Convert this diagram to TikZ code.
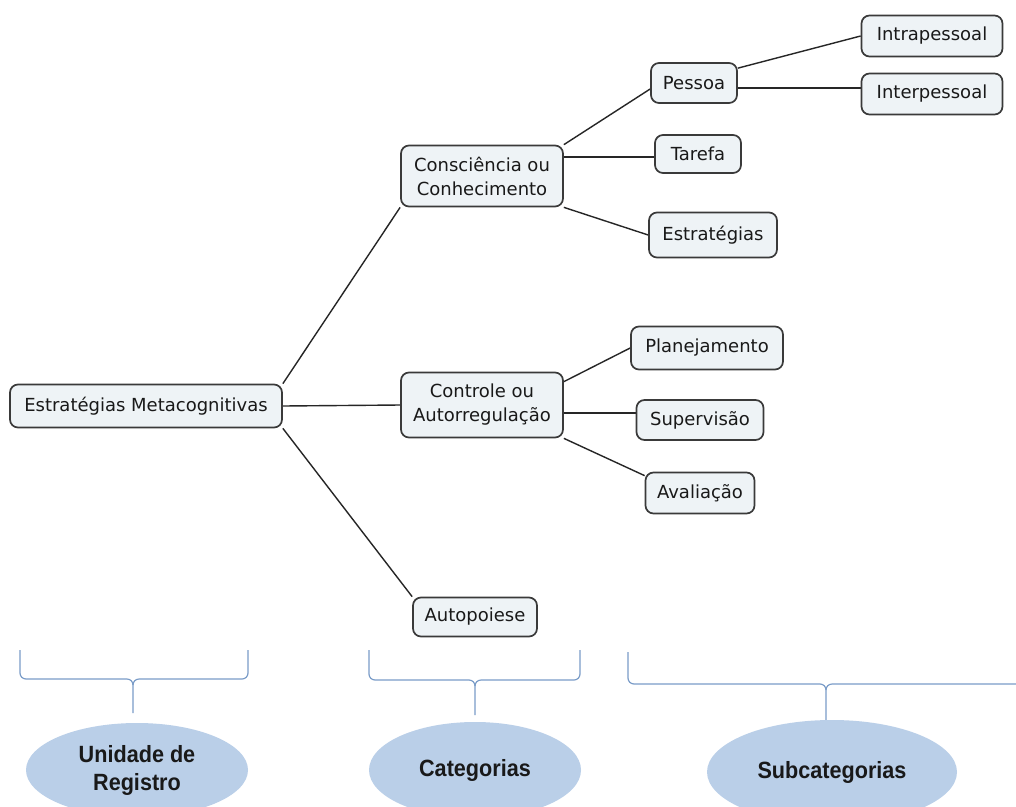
\documentclass[tikz,border=0pt]{standalone}
\usepackage{fontspec}
\setmainfont{DejaVu Sans}
\newfontfamily\ellfont[FakeStretch=0.92]{Liberation Sans}
\usetikzlibrary{backgrounds,shapes.geometric}
\definecolor{boxfill}{HTML}{EEF3F6}
\definecolor{boxline}{HTML}{3A3A3A}
\definecolor{bracecol}{HTML}{7A9CC8}
\definecolor{ellfill}{HTML}{BACFE8}
\begin{document}
\begin{tikzpicture}[x=1pt,y=-1pt,
  box/.style={draw=boxline, line width=1.7pt, fill=boxfill, rounded corners=8pt,
    inner sep=0pt, font=\fontsize{18}{24}\selectfont, text=black!90, align=center},
  link/.style={draw=black!85, line width=1.4pt},
  bracepath/.style={draw=bracecol, line width=1.2pt},
  ell/.style={ellipse, fill=ellfill, draw=none, inner sep=0pt, align=center,
    font=\ellfont\bfseries\fontsize{23.5}{28}\selectfont, text=black!90}]
\useasboundingbox (0,0) rectangle (1016,806);
\clip (0,0) rectangle (1016,806);

% level 0
\node[box, minimum width=272pt, minimum height=43pt] (em) at (146,406) {Estratégias Metacognitivas};
% level 1
\node[box, minimum width=162pt, minimum height=61pt] (cc) at (482,176) {Consciência ou\\Conhecimento};
\node[box, minimum width=162pt, minimum height=65pt] (cr) at (482,405) {Controle ou\\Autorregulação};
\node[box, minimum width=124pt, minimum height=39pt] (au) at (475,617) {Autopoiese};
% level 2
\node[box, minimum width=86pt, minimum height=40pt] (pe) at (694,83) {Pessoa};
\node[box, minimum width=86pt, minimum height=38pt] (ta) at (698,154) {Tarefa};
\node[box, minimum width=128pt, minimum height=45pt] (es) at (713,235) {Estratégias};
\node[box, minimum width=152pt, minimum height=43pt] (pl) at (707,348) {Planejamento};
\node[box, minimum width=127pt, minimum height=40pt] (su) at (700,420) {Supervisão};
\node[box, minimum width=109pt, minimum height=41pt] (av) at (700,493) {Avaliação};
% level 3
\node[box, minimum width=141pt, minimum height=41pt] (intra) at (932,36) {Intrapessoal};
\node[box, minimum width=141pt, minimum height=41pt] (inter) at (932,94) {Interpessoal};

\begin{scope}[on background layer]
  \fill[white] (0,0) rectangle (1016,806);
  \draw[link] (em.north east) -- (cc.south west);
  \draw[link] (em.east) -- (cr.west);
  \draw[link] (em.south east) -- (au.north west);
  \draw[link] (cc.north east) -- ([yshift=-6pt]pe.west);
  \draw[link] ([yshift=-3pt]cc.east |- ta.west) -- ([yshift=-3pt]ta.west);
  \draw[link] (cc.south east) -- (es.west);
  \draw[link] ([yshift=-6pt]pe.north east) -- (intra.west);
  \draw[link] ([yshift=-5pt]pe.east) -- ([yshift=-5pt]pe.east -| inter.west);
  \draw[link] ([yshift=-10pt]cr.north east) -- (pl.west);
  \draw[link] ([yshift=-8pt]cr.east) -- ([yshift=-8pt]cr.east -| su.west);
  \draw[link] (cr.south east) -- ([yshift=-4pt]av.north west);
\end{scope}

% braces
\draw[bracepath] (20,650) -- (20,673) to[out=-90,in=180] (26,679) -- (127,679)
  to[out=0,in=90] (133,685) -- (133,713);
\draw[bracepath] (248,650) -- (248,673) to[out=-90,in=0] (242,679) -- (139,679)
  to[out=180,in=90] (133,685);
\draw[bracepath] (369,650) -- (369,674) to[out=-90,in=180] (375,680) -- (469,680)
  to[out=0,in=90] (475,686) -- (475,715);
\draw[bracepath] (580,650) -- (580,674) to[out=-90,in=0] (574,680) -- (481,680)
  to[out=180,in=90] (475,686);
\draw[bracepath] (628,652) -- (628,678) to[out=-90,in=180] (634,684) -- (820,684)
  to[out=0,in=90] (826,690) -- (826,724);
\draw[bracepath] (1016,684) -- (832,684) to[out=180,in=90] (826,690);

% ellipses
\node[ell, minimum width=222pt, minimum height=94pt] (e1) at (137,770) {Unidade de\\Registro};
\node[ell, minimum width=212pt, minimum height=96pt] (e2) at (475,770) {Categorias};
\node[ell, minimum width=250pt, minimum height=104pt] (e3) at (832,772) {Subcategorias};
\end{tikzpicture}
\end{document}
